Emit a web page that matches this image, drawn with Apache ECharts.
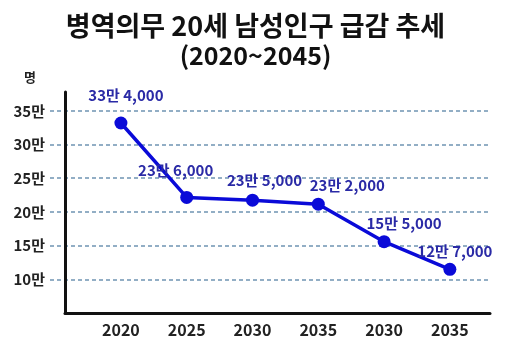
<!DOCTYPE html>
<html>
<head>
<meta charset="utf-8">
<script src="https://cdn.jsdelivr.net/npm/echarts@6/dist/echarts.min.js"></script>
<style>html,body{margin:0;padding:0;background:#fff;}#c{width:511px;height:348px;}</style>
</head>
<body>
<div id="c"></div>
<script>
// ---- data ----
const categories = ['2020', '2025', '2030', '2035', '2030', '2035'];
// plotted values (persons, 만 = 10,000)
const values = [332000, 221500, 217500, 211500, 155800, 114800];
const labelTexts = ['33만 4,000', '23만 6,000', '23만 5,000', '23만 2,000', '15만 5,000', '12만 7,000'];
const yTicks = [10, 15, 20, 25, 30, 35]; // in 만
const titleText = '병역의무 20세 남성인구 급감 추세';
const subtitleText = '(2020~2045)';
const unitText = '명';

// ---- styles ----
const FONT = '"Noto Sans CJK KR", "Noto Sans", sans-serif';
const labelOffsets = [[5, -9], [-11, -8], [12, -1], [29, 0], [20, 1], [5, 1]];
const yMin = 5, yMax = 37.8;

const chart = echarts.init(document.getElementById('c'), null, {renderer: 'canvas'});
const seriesData = values.map((v, i) => ({
  value: [i, v / 10000],
  label: {formatter: labelTexts[i], offset: labelOffsets[i]}
}));

chart.setOption({
  backgroundColor: '#fff',
  animation: false,
  title: [
    {text: titleText, left: 'center', top: 7,
     textStyle: {fontFamily: FONT, fontWeight: 'bold', fontSize: 27, color: '#111'}},
    {text: subtitleText, left: 'center', top: 38,
     textStyle: {fontFamily: FONT, fontWeight: 'bold', fontSize: 25, color: '#111'}},
    {text: unitText, left: 19, top: 66,
     textStyle: {fontFamily: FONT, fontWeight: 'bold', fontSize: 13, color: '#222'}}
  ],
  grid: [
    {left: 50, right: 23, top: 92, bottom: 35},
    {left: 65, right: 21, top: 92, bottom: 35}
  ],
  xAxis: [
    {gridIndex: 0, type: 'value', min: 0, max: 1, show: false},
    {gridIndex: 1, type: 'value', min: -0.85, max: 5.61,
     axisLine: {show: true, onZero: false, lineStyle: {color: '#111', width: 3}},
     axisTick: {show: false, customValues: categories.map((c, i) => i)},
     splitLine: {show: false},
     axisLabel: {customValues: categories.map((c, i) => i), margin: 9,
       formatter: v => categories[Math.round(v)] || '',
       fontFamily: FONT, fontWeight: 'bold', fontSize: 16, color: '#222'}}
  ],
  yAxis: [
    {gridIndex: 0, type: 'value', min: yMin, max: yMax,
     axisLine: {show: false},
     axisTick: {show: false, customValues: yTicks},
     axisLabel: {customValues: yTicks, margin: 5, formatter: v => v + '만',
       fontFamily: FONT, fontWeight: 'bold', fontSize: 15, color: '#222'},
     splitLine: {show: true, lineStyle: {color: '#6f94b2', width: 1.5, type: [4, 3]}}},
    {gridIndex: 1, type: 'value', min: yMin, max: yMax,
     axisLine: {show: true, onZero: false, lineStyle: {color: '#111', width: 3}},
     axisTick: {show: false}, axisLabel: {show: false}, splitLine: {show: false}}
  ],
  series: [{
    type: 'line',
    xAxisIndex: 1, yAxisIndex: 1,
    data: seriesData,
    symbol: 'circle', symbolSize: 13,
    lineStyle: {color: '#0a0ad8', width: 3.5},
    itemStyle: {color: '#0a0ad8'},
    label: {show: true, position: 'top', distance: 5,
      fontFamily: FONT, fontWeight: 'bold', fontSize: 15, color: '#2a2aa6'}
  }]
});
</script>
</body>
</html>
